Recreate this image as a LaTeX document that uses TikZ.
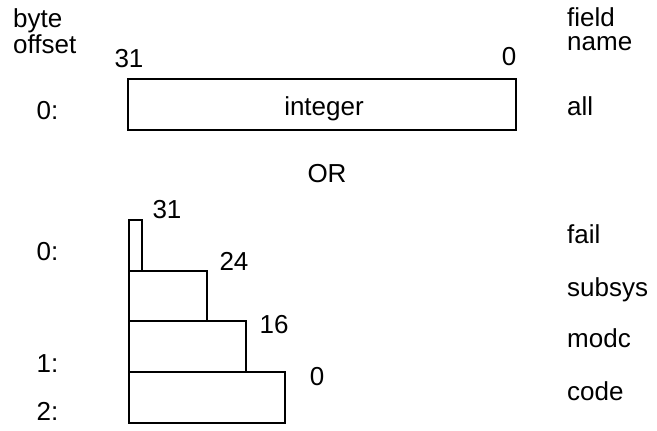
\documentclass[tikz,border=0pt]{standalone}
\usepackage{fontspec}
\setmainfont{Liberation Sans}
\begin{document}
\begin{tikzpicture}[x=1bp,y=-1bp,
  lbl/.style={inner sep=0pt,anchor=base,font=\fontsize{26bp}{25bp}\selectfont},
  lblw/.style={lbl,anchor=base west},
  box/.style={draw,line width=2.4bp}]
\useasboundingbox (0,0) rectangle (657,430);
% headers
\node[lblw] (byte) at (13,27) {byte};
\node[lblw] (offset) at (13,53) {offset};
\node[lblw] (field) at (567,26) {field};
\node[lblw] (name) at (567,50) {name};
% top word
\node[lbl] (t31) at (129,67) {31};
\node[lbl] (t0) at (509,65) {0};
\draw[box] (128,79) rectangle (516,130);
\node[lbl] (integer) at (324,115) {integer};
\node[lbl] (off0a) at (47.5,119) {0:};
\node[lblw] (all) at (567,115) {all};
\node[lbl] (or) at (327,182) {OR};
% stepped fields
\draw[box] (129,220) rectangle (142,271);
\draw[box] (129,271) rectangle (207,321);
\draw[box] (129,321) rectangle (246,372);
\draw[box] (129,372) rectangle (285,423);
\node[lbl] (b31) at (167,218) {31};
\node[lbl] (b24) at (234,270) {24};
\node[lbl] (b16) at (274,333) {16};
\node[lbl] (b0) at (317,385) {0};
\node[lbl] (off0b) at (47.5,260) {0:};
\node[lbl] (off1) at (47.5,372) {1:};
\node[lbl] (off2) at (47.5,420) {2:};
\node[lblw] (fail) at (567,243) {fail};
\node[lblw] (subsys) at (567,296) {subsys};
\node[lblw] (modc) at (567,347) {modc};
\node[lblw] (code) at (567,400) {code};
\end{tikzpicture}
\end{document}
